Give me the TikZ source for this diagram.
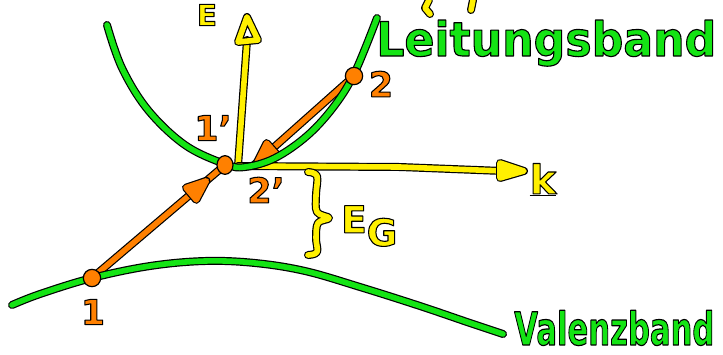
\documentclass[tikz,border=0pt]{standalone}
\usepackage{fontspec}
\setmainfont{DejaVu Sans}
\usetikzlibrary{calc,shapes.geometric}
\definecolor{gr}{RGB}{20,228,20}
\definecolor{ye}{RGB}{255,240,0}
\definecolor{orng}{RGB}{255,128,0}
\newcommand\outl[2][0.8]{\special{pdf:literal direct 0 0 0 RG #1 w 1 j 2 Tr}#2\special{pdf:literal direct 0 Tr}}
\begin{document}
\begin{tikzpicture}[x=0.75pt,y=-0.75pt,
  hand/.style={preaction={draw=black,line width=6pt,line cap=round,line join=round},line width=4.2pt,line cap=round,line join=round},
  gline/.style={hand,draw=gr},
  yline/.style={hand,draw=ye},
  oline/.style={hand,draw=orng},
  dot/.style={circle,fill=orng,draw=black,line width=0.9pt,minimum size=13pt,inner sep=0pt},
  lab/.style={font=\fontsize{26}{28}\selectfont\bfseries,inner sep=0pt},
  olab/.style={lab,text=orng},
  ylab/.style={lab,text=ye},
  glab/.style={inner sep=0pt,text=gr,font=\bfseries}]
\useasboundingbox (0,0) rectangle (723,354);
% coordinates
\coordinate (O) at (238,166);
\coordinate (Etop) at (247,40);
\coordinate (kend) at (503,171);
\coordinate (p1) at (92,278);
\coordinate (p1p) at (225,165);
\coordinate (p2) at (354,76);
\coordinate (p2p) at (254,165);
% axes
\draw[yline] (O) -- (Etop);
\node[inner sep=0pt] (Etip) at (247,17) {};
\draw[yline] (Etip.center) -- (238,42) -- (258,40) -- cycle;
\draw[yline] (O) -- (400,167) -- (kend);
\node[inner sep=0pt] (ktip) at (524,171) {};
\draw[yline,fill=ye] (ktip.center) -- (500,163) -- (500,178) -- cycle;
% top cut marks
\draw[yline] (429,0) -- (425,8) -- (430,14);
\draw[yline] (473,0) -- (471,10);
% brace
\draw[yline] plot[smooth,tension=0.6] coordinates {(308,172) (317,176) (316,195) (317,212) (329,218) (318,223) (316,238) (317,252) (308,255)};
% orange transitions
\draw[oline] (p1) -- (p1p);
\coordinate (t1) at ($(p1)!0.86!(p1p)$);
\coordinate (b1) at ($(t1)!15pt!(p1)$);
\draw[oline,fill=orng] (t1) -- ($(b1)!6pt!90:(t1)$) -- ($(b1)!6pt!-90:(t1)$) -- cycle;
\draw[oline] (p2) -- (p2p);
\coordinate (t2) at ($(p2)!0.97!(p2p)$);
\coordinate (b2) at ($(t2)!15pt!(p2)$);
\draw[oline,fill=orng] (t2) -- ($(b2)!6pt!90:(t2)$) -- ($(b2)!6pt!-90:(t2)$) -- cycle;
% bands
\draw[gline] plot[smooth,tension=0.6] coordinates {(107,25) (122,68) (148,110) (185,145) (225,164) (245,167) (275,158) (308,135) (335,105) (355,72) (377,18)};
\draw[gline] plot[smooth,tension=0.6] coordinates {(12,305) (40,294) (92,278) (150,266) (205,261) (255,263) (305,271) (360,287) (420,306) (470,323) (503,334)};
% dots
\node[dot] (d1) at (p1) {};
\node[dot,minimum width=12pt,minimum height=14pt,ellipse] (d1p) at (p1p) {};
\node[dot] (d2) at (p2) {};
% labels
\node[olab] (l1) at (93,312) {\outl{1}};
\node[olab] (l1p) at (213,128) {\outl{1'}};
\node[olab] (l2) at (381,84) {\outl{2}};
\node[olab] (l2p) at (266,190) {\outl{2'}};
\node[ylab,font=\fontsize{22}{24}\selectfont\bfseries] (lE) at (207,15) {\outl{E}};
\node[ylab,font=\fontsize{30}{32}\selectfont\bfseries] (lk) at (543,180) {\outl{\underline{k}}};
\node[ylab,anchor=west,font=\fontsize{28}{30}\selectfont\bfseries] (lEG) at (341,226) {\outl{E\raisebox{-0.35em}{G}}};
\node[glab,anchor=base west] (lL) at (376,56) {\resizebox{255pt}{27pt}{\outl[0.24]{Leitungsband}}};
\node[glab,anchor=base west] (lV) at (514,345) {\resizebox{150pt}{26pt}{\outl[0.26]{Valenzband}}};
\end{tikzpicture}
\end{document}
